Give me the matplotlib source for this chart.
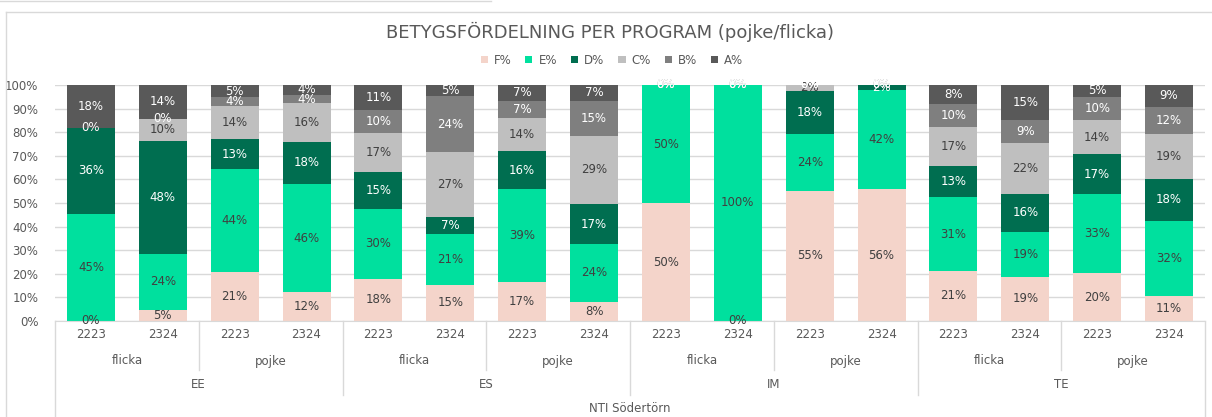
import matplotlib
matplotlib.use('Agg')
import matplotlib.pyplot as plt
from matplotlib.lines import Line2D
from matplotlib.patches import Patch
from matplotlib.transforms import blended_transform_factory

# Data (percent per bar, bottom to top: F, E, D, C, B, A)
programs = ['EE', 'ES', 'IM', 'TE']
genders = ['flicka', 'pojke']
years = ['2223', '2324']
school = 'NTI Södertörn'

F = [0, 4.8, 20.6, 12.3, 17.8, 15.4, 16.7, 8.2, 50, 0, 55.2, 55.9, 21.3, 18.8, 20.3, 10.7]
E = [45.4, 23.8, 43.6, 45.7, 29.8, 21.4, 39.2, 24.4, 50, 100, 24.1, 41.9, 31.1, 18.9, 33.4, 31.7]
D = [36.4, 47.6, 12.8, 18.0, 15.4, 7.2, 16.1, 17.0, 0, 0, 18.3, 2.2, 13.1, 16.2, 17.0, 17.8]
C = [0, 9.5, 14.1, 16.2, 16.7, 27.4, 14.2, 28.9, 0, 0, 2.4, 0, 16.8, 21.7, 14.4, 18.9]
B = [0, 0, 3.8, 3.7, 9.6, 23.9, 7.1, 14.9, 0, 0, 0, 0, 9.6, 9.4, 9.9, 11.7]
A = [18.2, 14.3, 5.1, 4.1, 10.7, 4.7, 6.7, 6.6, 0, 0, 0, 0, 8.1, 15.0, 5.0, 9.2]

series = [('F%', F, '#F4D4CA', '#404040'),
          ('E%', E, '#00E09E', '#404040'),
          ('D%', D, '#006E50', 'white'),
          ('C%', C, '#BFBFBF', '#404040'),
          ('B%', B, '#7F7F7F', 'white'),
          ('A%', A, '#595959', 'white')]

text_col = '#595959'
grid_col = '#D9D9D9'
plt.rcParams['font.family'] = ['DejaVu Sans']

W, H = 1212, 417
fig = plt.figure(figsize=(W / 100, H / 100), dpi=100)

# plot area in pixels
left, right, top, bottom = 55, 1205, 85, 321
ax = fig.add_axes([left / W, 1 - bottom / H, (right - left) / W, (bottom - top) / H])

n = len(F)
x = list(range(n))
base = [0] * n
for name, vals, col, lcol in series:
    ax.bar(x, vals, bottom=base, width=0.667, color=col, label=name, zorder=2)
    for i in range(n):
        ax.text(i, base[i] + vals[i] / 2, f"{vals[i]:.0f}%", ha='center', va='center',
                fontsize=8.5, color=lcol, zorder=3, clip_on=False)
    base = [b + v for b, v in zip(base, vals)]

ax.set_xlim(-0.5, n - 0.5)
ax.set_ylim(0, 100)
ax.set_yticks(range(0, 101, 10))
ax.set_yticklabels([f"{t}%" for t in range(0, 101, 10)])
ax.tick_params(axis='y', length=0, pad=12, labelsize=8.5, labelcolor=text_col)
ax.set_xticks([])
ax.yaxis.grid(True, color=grid_col, linewidth=1, zorder=0)
ax.set_axisbelow(True)
for s in ['top', 'right', 'left']:
    ax.spines[s].set_visible(False)
ax.spines['bottom'].set_color(grid_col)

# multi-level category axis
tr = blended_transform_factory(ax.transData, fig.transFigure)
def fy(py):
    return 1 - py / H

for i in range(n):
    ax.text(i, fy(335), years[i % 2], transform=tr, ha='center', va='center',
            fontsize=8.5, color=text_col)
for g in range(n // 2):
    ax.text(2 * g + 0.5, fy(361), genders[g % 2], transform=tr, ha='center', va='center',
            fontsize=8.5, color=text_col)
for p in range(len(programs)):
    ax.text(4 * p + 1.5, fy(385), programs[p], transform=tr, ha='center', va='center',
            fontsize=8.5, color=text_col)
ax.text((n - 1) / 2, fy(409), school, transform=tr, ha='center', va='center',
        fontsize=8.5, color=text_col)

for k in range(n // 2 + 1):
    xs = 2 * k - 0.5
    if k == 0 or k == n // 2:
        yend = H
    elif k % 2 == 0:
        yend = 395
    else:
        yend = 370
    ax.add_line(Line2D([xs, xs], [fy(bottom), fy(yend)], transform=tr, color=grid_col,
                       linewidth=1, clip_on=False))

# chart frame
fig.add_artist(Line2D([6 / W, 6 / W], [0, fy(12)], color=grid_col, linewidth=1))
fig.add_artist(Line2D([6 / W, 1], [fy(12), fy(12)], color=grid_col, linewidth=1))
fig.add_artist(Line2D([0, 491 / W], [fy(1), fy(1)], color=grid_col, linewidth=1))

fig.text(610 / W, fy(32), 'BETYGSFÖRDELNING PER PROGRAM (pojke/flicka)', ha='center',
         va='center', fontsize=13, color=text_col)

handles = [Patch(facecolor=c, label=nm) for nm, v, c, lc in series]
fig.legend(handles=handles, loc='center', bbox_to_anchor=(612 / W, fy(60)), ncol=6,
           frameon=False, fontsize=8.5, labelcolor=text_col, handlelength=0.6,
           handleheight=0.6, handletextpad=0.5, columnspacing=1.2)

fig.savefig('out.png', dpi=100)
